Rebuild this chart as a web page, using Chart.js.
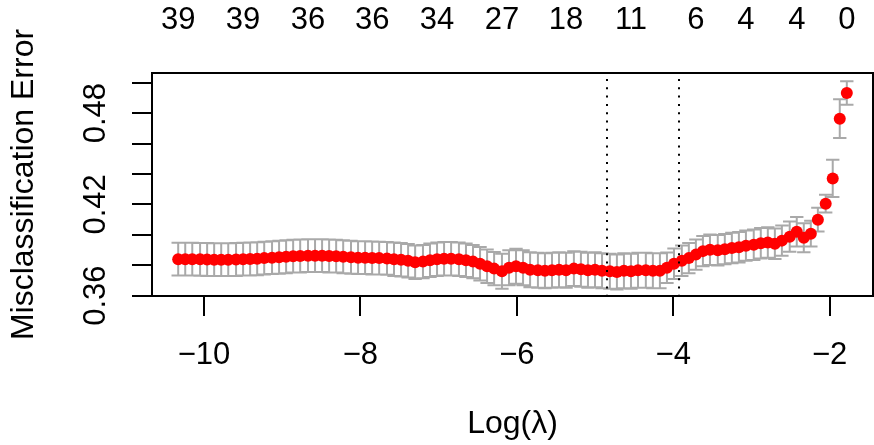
<!DOCTYPE html>
<html>
<head>
<meta charset="utf-8">
<script src="https://cdn.jsdelivr.net/npm/chart.js@4.4.0/dist/chart.umd.min.js"></script>
<style>
  html, body { margin: 0; padding: 0; background: #fff; }
</style>
</head>
<body>
<canvas id="cv" width="874" height="445"></canvas>
<script>
// log(lambda) of each fit, left to right
const logLambda = [
  -10.33, -10.24, -10.15, -10.05, -9.96, -9.87, -9.78, -9.69, -9.59, -9.50,
  -9.41, -9.32, -9.23, -9.13, -9.04, -8.95, -8.86, -8.77, -8.67, -8.58,
  -8.49, -8.40, -8.31, -8.22, -8.12, -8.03, -7.94, -7.85, -7.76, -7.66,
  -7.57, -7.48, -7.39, -7.30, -7.20, -7.11, -7.02, -6.93, -6.84, -6.74,
  -6.65, -6.56, -6.47, -6.38, -6.29, -6.19, -6.10, -6.01, -5.92, -5.83,
  -5.73, -5.64, -5.55, -5.46, -5.37, -5.27, -5.18, -5.09, -5.00, -4.91,
  -4.81, -4.72, -4.63, -4.54, -4.45, -4.35, -4.26, -4.17, -4.08, -3.99,
  -3.89, -3.80, -3.71, -3.62, -3.53, -3.43, -3.34, -3.25, -3.16, -3.07,
  -2.97, -2.88, -2.79, -2.70, -2.61, -2.51, -2.42, -2.33, -2.24, -2.15,
  -2.05, -1.96, -1.87, -1.78
];
// mean cross-validated misclassification error
const cvm = [
  0.3840, 0.3840, 0.3840, 0.3839, 0.3838, 0.3837, 0.3837, 0.3837, 0.3838, 0.3840,
  0.3841, 0.3843, 0.3847, 0.3850, 0.3853, 0.3856, 0.3860, 0.3861, 0.3863, 0.3863,
  0.3863, 0.3861, 0.3860, 0.3856, 0.3853, 0.3850, 0.3850, 0.3848, 0.3847, 0.3845,
  0.3840, 0.3837, 0.3830, 0.3820, 0.3824, 0.3833, 0.3840, 0.3843, 0.3843, 0.3840,
  0.3833, 0.3824, 0.3810, 0.3794, 0.3778, 0.3761, 0.3784, 0.3794, 0.3784, 0.3771,
  0.3768, 0.3764, 0.3768, 0.3771, 0.3768, 0.3778, 0.3774, 0.3768, 0.3771, 0.3764,
  0.3760, 0.3755, 0.3764, 0.3761, 0.3768, 0.3768, 0.3764, 0.3764, 0.3784, 0.3810,
  0.3830, 0.3847, 0.3870, 0.3893, 0.3902, 0.3899, 0.3906, 0.3914, 0.3919, 0.3929,
  0.3935, 0.3945, 0.3950, 0.3942, 0.3962, 0.3988, 0.4021, 0.3981, 0.4008, 0.4100,
  0.4205, 0.4371, 0.4764, 0.4933
];
// standard error of each point
const cvsd = [
  0.0108, 0.0108, 0.0108, 0.0108, 0.0108, 0.0108, 0.0108, 0.0108, 0.0108, 0.0108,
  0.0108, 0.0108, 0.0108, 0.0108, 0.0108, 0.0108, 0.0108, 0.0108, 0.0108, 0.0108,
  0.0108, 0.0108, 0.0108, 0.0108, 0.0108, 0.0108, 0.0108, 0.0108, 0.0108, 0.0108,
  0.0110, 0.0110, 0.0110, 0.0110, 0.0110, 0.0110, 0.0110, 0.0110, 0.0110, 0.0110,
  0.0110, 0.0110, 0.0110, 0.0110, 0.0110, 0.0115, 0.0115, 0.0115, 0.0115, 0.0115,
  0.0115, 0.0115, 0.0115, 0.0115, 0.0115, 0.0115, 0.0115, 0.0115, 0.0115, 0.0115,
  0.0115, 0.0115, 0.0115, 0.0115, 0.0115, 0.0115, 0.0115, 0.0115, 0.0100, 0.0100,
  0.0100, 0.0100, 0.0100, 0.0100, 0.0100, 0.0100, 0.0100, 0.0100, 0.0100, 0.0100,
  0.0100, 0.0100, 0.0100, 0.0100, 0.0100, 0.0099, 0.0097, 0.0095, 0.0085, 0.0078,
  0.0058, 0.0122, 0.0128, 0.0077
];
// number of nonzero coefficients, top axis
const nzeroAt = [-10.33, -9.50, -8.67, -7.85, -7.02, -6.19, -5.37, -4.54, -3.71, -3.07, -2.42, -1.78];
const nzeroLabels = ['39', '39', '36', '36', '34', '27', '18', '11', '6', '4', '4', '0'];
const xTicks = [-10, -8, -6, -4, -2];
const yTicks = [0.36, 0.38, 0.40, 0.42, 0.44, 0.46, 0.48, 0.50];
const yLabeled = [0.36, 0.42, 0.48];
// lambda.min and lambda.1se
const lambdaLines = [-4.85, -3.92];

const FONT = '"Liberation Sans", Arial, Helvetica, sans-serif';

// keep the plot box fixed, no room for label overflow
function noPad(s) {
  s.paddingLeft = 0; s.paddingRight = 0; s.paddingTop = 0; s.paddingBottom = 0;
}

const extras = {
  id: 'extras',
  beforeDatasetsDraw(chart) {
    const ctx = chart.ctx, xs = chart.scales.x, ys = chart.scales.y;
    const barw = 0.01 * (Math.max(...logLambda) - Math.min(...logLambda));
    ctx.save();
    ctx.strokeStyle = '#A9A9A9';
    ctx.lineWidth = 2;
    ctx.beginPath();
    logLambda.forEach((lx, i) => {
      const x = xs.getPixelForValue(lx);
      const xl = xs.getPixelForValue(lx - barw), xr = xs.getPixelForValue(lx + barw);
      const yu = ys.getPixelForValue(cvm[i] + cvsd[i]);
      const yl = ys.getPixelForValue(cvm[i] - cvsd[i]);
      ctx.moveTo(x, yu); ctx.lineTo(x, yl);
      ctx.moveTo(xl, yu); ctx.lineTo(xr, yu);
      ctx.moveTo(xl, yl); ctx.lineTo(xr, yl);
    });
    ctx.stroke();
    ctx.restore();
  },
  afterDraw(chart) {
    const ctx = chart.ctx, a = chart.chartArea, xs = chart.scales.x, ys = chart.scales.y;
    ctx.save();
    // dotted lines
    ctx.strokeStyle = '#000';
    ctx.lineWidth = 2;
    ctx.setLineDash([2, 6.3]);
    lambdaLines.forEach(v => {
      const x = Math.round(xs.getPixelForValue(v));
      ctx.beginPath();
      ctx.moveTo(x, a.top + 6);
      ctx.lineTo(x, a.bottom);
      ctx.stroke();
    });
    ctx.setLineDash([]);
    // box
    ctx.strokeRect(a.left, a.top, a.right - a.left, a.bottom - a.top);
    // y tick labels, rotated like R
    ctx.fillStyle = '#000';
    ctx.font = '31px ' + FONT;
    ctx.textAlign = 'center';
    ctx.textBaseline = 'alphabetic';
    yLabeled.forEach(v => {
      ctx.save();
      ctx.translate(105, ys.getPixelForValue(v));
      ctx.rotate(-Math.PI / 2);
      ctx.fillText(v.toFixed(2), 0, 0);
      ctx.restore();
    });
    // axis titles
    ctx.font = '32px ' + FONT;
    ctx.save();
    ctx.translate(33, (a.top + a.bottom) / 2);
    ctx.rotate(-Math.PI / 2);
    ctx.fillText('Misclassification Error', 0, 0);
    ctx.restore();
    ctx.fillText('Log(\u03BB)', (a.left + a.right) / 2, 433);
    ctx.restore();
  }
};

new Chart(document.getElementById('cv'), {
  type: 'scatter',
  data: {
    datasets: [{
      data: logLambda.map((x, i) => ({ x: x, y: cvm[i] })),
      backgroundColor: '#FF0000',
      borderColor: '#FF0000',
      borderWidth: 0,
      pointRadius: 6,
      pointHoverRadius: 6
    }]
  },
  options: {
    responsive: false,
    animation: false,
    devicePixelRatio: 1,
    layout: { autoPadding: false, padding: { left: 0, right: 1, top: 0, bottom: 0 } },
    plugins: { legend: { display: false }, tooltip: { enabled: false } },
    scales: {
      x: {
        type: 'linear',
        position: 'bottom',
        min: -10.665,
        max: -1.445,
        afterBuildTicks: s => { s.ticks = xTicks.map(v => ({ value: v })); },
        afterFit: s => { s.height = 149; noPad(s); },
        ticks: {
          autoSkip: false, maxRotation: 0, minRotation: 0,
          padding: 21, color: '#000',
          font: { family: FONT, size: 31 },
          callback: v => String(v).replace('-', '\u2212')
        },
        grid: { display: true, drawOnChartArea: false, drawTicks: true, tickLength: 20, tickWidth: 2, tickColor: '#000', lineWidth: 2, color: '#000' },
        border: { display: false }
      },
      x2: {
        type: 'linear',
        position: 'top',
        display: true,
        min: -10.665,
        max: -1.445,
        afterBuildTicks: s => { s.ticks = nzeroAt.map(v => ({ value: v })); },
        afterFit: s => { s.height = 73; noPad(s); },
        ticks: {
          autoSkip: false, maxRotation: 0, minRotation: 0,
          padding: 34, color: '#000',
          font: { family: FONT, size: 31 },
          callback: (v, i) => nzeroLabels[i]
        },
        grid: { display: false, drawTicks: false },
        border: { display: false }
      },
      y: {
        type: 'linear',
        position: 'left',
        min: 0.3598,
        max: 0.5064,
        afterBuildTicks: s => { s.ticks = yTicks.map(v => ({ value: v })); },
        afterFit: s => { s.width = 152; noPad(s); },
        ticks: { display: false },
        grid: { display: true, drawOnChartArea: false, drawTicks: true, tickLength: 20, tickWidth: 2, tickColor: '#000', lineWidth: 2, color: '#000' },
        border: { display: false }
      }
    }
  },
  plugins: [extras]
});
</script>
</body>
</html>
